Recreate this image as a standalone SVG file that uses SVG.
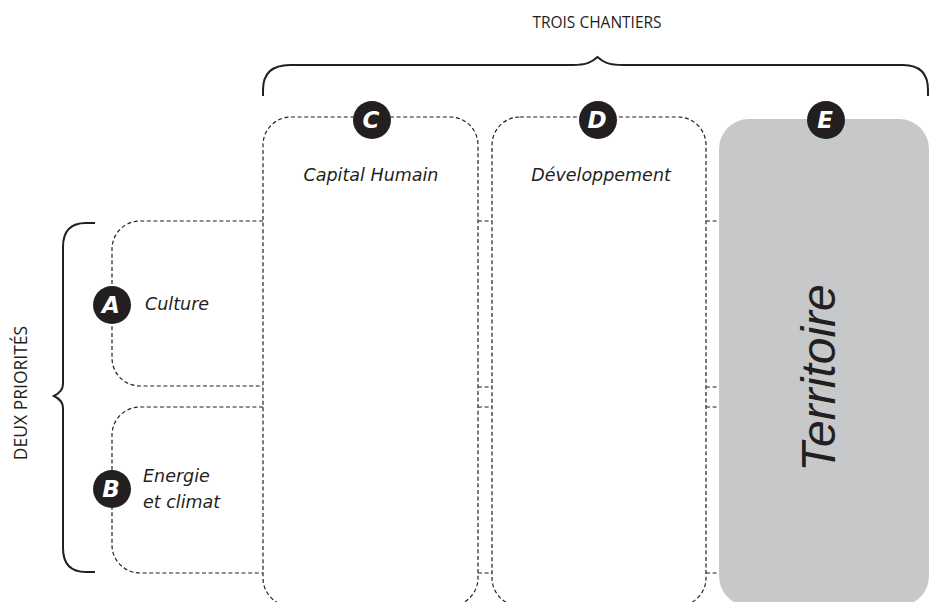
<svg xmlns="http://www.w3.org/2000/svg" width="930" height="602" viewBox="0 0 930 602">
  <style>
    .dash { fill: none; stroke: #231f20; stroke-width: 1.2; stroke-dasharray: 4 2.6; }
    .brace { fill: none; stroke: #231f20; stroke-width: 2; stroke-linecap: butt; }
    .badge { fill: #231f20; }
    .badge-txt { font-family: "DejaVu Sans", "Liberation Sans", sans-serif; font-style: italic; font-weight: bold; font-size: 23px; fill: #ffffff; text-anchor: middle; }
    .label { font-family: "DejaVu Sans", "Liberation Sans", sans-serif; font-style: italic; font-size: 17.5px; fill: #231f20; }
    .caps { font-family: "Open Sans", "Liberation Sans", sans-serif; font-size: 15.5px; fill: #231f20; text-anchor: middle; }
    .big { font-family: "Liberation Sans", Arial, sans-serif; font-style: italic; font-size: 48px; fill: #231f20; text-anchor: middle; }
  </style>

  <!-- Headings and braces -->
  <g id="heading-chantiers">
    <text class="caps" x="597" y="28">TROIS CHANTIERS</text>
    <path class="brace" d="M263,96 V90 Q263,65 290,65 H572 C587,65 592,62 597.5,57 C603,62 608,65 623,65 H903 Q928,65 928,90 V96"/>
  </g>
  <g id="heading-priorites">
    <text class="caps" style="font-size:17.5px" transform="translate(27,393) rotate(-90)" x="0" y="0">DEUX PRIORITÉS</text>
    <path class="brace" d="M95,223 H86 Q63,223 63,247 V384 C63,390 60,393 54,396 C60,399 63,402 63,408 V548 Q63,572 86,572 H95"/>
  </g>

  <!-- Chantier E: filled column -->
  <g id="node-E">
    <rect x="719" y="119" width="210" height="487" rx="30" fill="#c7c8ca"/>
    <text class="big" transform="translate(835,378) rotate(-90)" x="0" y="0">Territoire</text>
  </g>

  <!-- Chantier C -->
  <g id="node-C">
    <rect class="dash" x="263" y="117" width="215" height="489" rx="28"/>
    <text class="label" x="371" y="181" text-anchor="middle">Capital Humain</text>
  </g>

  <!-- Chantier D -->
  <g id="node-D">
    <rect class="dash" x="492" y="117" width="214" height="489" rx="28"/>
    <text class="label" x="601" y="181" text-anchor="middle">Développement</text>
  </g>

  <!-- Priorité A -->
  <g id="node-A">
    <path class="dash" d="M263,221 H140 A28,28 0 0 0 112,249 V358 A28,28 0 0 0 140,386 H263"/>
    <text class="label" x="145" y="310">Culture</text>
  </g>

  <!-- Priorité B -->
  <g id="node-B">
    <path class="dash" d="M263,407 H140 A28,28 0 0 0 112,435 V545 A28,28 0 0 0 140,573 H263"/>
    <text class="label" x="143" y="482">Energie</text>
    <text class="label" x="143" y="508">et climat</text>
  </g>

  <!-- Links carrying the priority rows across the columns -->
  <g id="connectors">
    <path class="dash" d="M478,221 H492 M478,387 H492 M478,407 H492 M478,573 H492"/>
    <path class="dash" d="M706,221 H719 M706,387 H719 M706,407 H719 M706,573 H719"/>
  </g>

  <!-- Letter badges -->
  <g id="badges">
    <g id="badge-A"><circle class="badge" cx="112" cy="305" r="19"/><text class="badge-txt" x="111" y="313">A</text></g>
    <g id="badge-B"><circle class="badge" cx="112" cy="489" r="19"/><text class="badge-txt" x="111" y="497">B</text></g>
    <g id="badge-C"><circle class="badge" cx="372" cy="120" r="19"/><text class="badge-txt" x="371" y="128">C</text></g>
    <g id="badge-D"><circle class="badge" cx="598" cy="120" r="19"/><text class="badge-txt" x="597" y="128">D</text></g>
    <g id="badge-E"><circle class="badge" cx="826" cy="120" r="19"/><text class="badge-txt" x="825" y="128">E</text></g>
  </g>
</svg>
